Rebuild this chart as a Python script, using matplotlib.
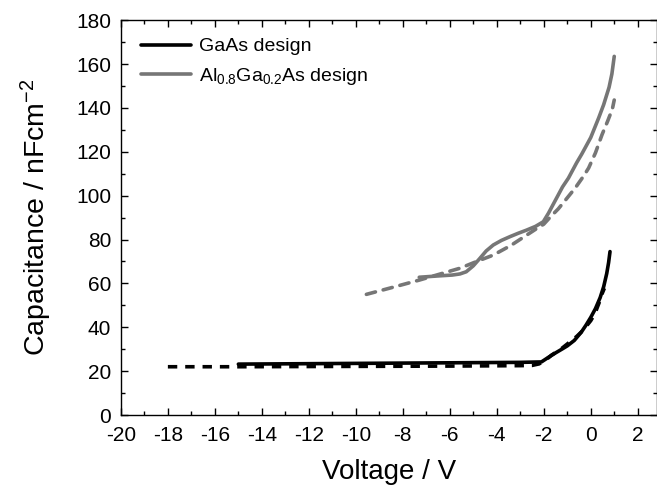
import numpy as np
import matplotlib
matplotlib.use('Agg')
import matplotlib.pyplot as plt
from matplotlib.ticker import MultipleLocator

plt.rcParams['font.family'] = ['Liberation Sans', 'DejaVu Sans']
plt.rcParams['mathtext.fontset'] = 'custom'
plt.rcParams['mathtext.rm'] = 'Liberation Sans'
plt.rcParams['mathtext.it'] = 'Liberation Sans'
plt.rcParams['axes.unicode_minus'] = False

# GaAs design, solid
gaas_v = [-15.0, -12.0, -9.0, -6.0, -3.0, -2.1, -1.8, -1.5, -1.2, -1.0, -0.7, -0.4,
          -0.2, 0.0, 0.2, 0.4, 0.55, 0.68, 0.76, 0.82]
gaas_c = [23.2, 23.4, 23.6, 23.8, 24.0, 24.2, 26.3, 28.3, 30.2, 31.5, 34.0, 37.8,
          41.0, 44.5, 48.5, 53.5, 58.5, 64.5, 69.5, 74.5]
# GaAs design, dashed
gaas_d_v = [-18.0, -15.0, -12.0, -9.0, -6.0, -3.0, -2.5, -2.2, -1.9, -1.67, -1.3, -0.96,
            -0.6, -0.32, 0.0, 0.18, 0.35, 0.46, 0.58]
gaas_d_c = [22.0, 22.0, 22.1, 22.2, 22.3, 22.5, 22.6, 23.3, 25.2, 27.3, 29.8, 32.7,
            35.8, 38.7, 43.0, 46.3, 51.0, 54.7, 57.8]
# Al0.8Ga0.2As design, solid
al_v = [-7.3, -6.5, -5.9, -5.57, -5.3, -5.0, -4.72, -4.45, -4.15, -3.8, -3.44, -3.1,
        -2.73, -2.35, -2.02, -1.8, -1.5, -1.2, -0.95, -0.6, -0.38, 0.0, 0.34, 0.55,
        0.78, 0.9, 1.0]
al_c = [62.8, 63.4, 63.8, 64.3, 65.3, 68.0, 71.4, 74.8, 77.5, 79.6, 81.3, 82.8,
        84.3, 86.0, 88.1, 92.0, 98.0, 104.0, 108.0, 115.0, 119.0, 126.5, 135.5, 141.5,
        149.4, 155.5, 163.5]
# Al0.8Ga0.2As design, dashed
al_d_v = [-9.55, -8.5, -7.3, -6.5, -5.57, -4.9, -4.15, -3.4, -2.73, -2.3, -2.0, -1.7,
          -1.38, -1.0, -0.66, -0.3, -0.09, 0.2, 0.48, 0.72, 0.92, 1.0]
al_d_c = [55.0, 58.0, 61.5, 64.0, 66.9, 69.8, 72.9, 77.3, 82.0, 85.0, 87.0, 90.5,
          94.0, 99.0, 103.5, 109.0, 112.6, 119.5, 127.8, 134.0, 139.5, 143.6]

fig = plt.figure(figsize=(6.57, 4.92), dpi=100)
ax = fig.add_axes([0.184, 0.1565, 0.816, 0.8025])

gray = '#767676'
ax.plot(gaas_d_v, gaas_d_c, color='black', lw=2.6, ls=(0, (2.6, 2.2)))
ax.plot(gaas_v, gaas_c, color='black', lw=2.6, solid_capstyle='round',
        solid_joinstyle='round', label='GaAs design')
ax.plot(al_d_v, al_d_c, color=gray, lw=2.6, ls=(0, (2.6, 2.2)), dash_capstyle='round')
ax.plot(al_v, al_c, color=gray, lw=2.6, solid_capstyle='round',
        solid_joinstyle='round', label=r'Al$_{0.8}$Ga$_{0.2}$As design')

ax.set_xlim(-20, 2.82)
ax.set_ylim(0, 180)
ax.xaxis.set_major_locator(MultipleLocator(2))
ax.xaxis.set_minor_locator(MultipleLocator(1))
ax.yaxis.set_major_locator(MultipleLocator(20))
ax.yaxis.set_minor_locator(MultipleLocator(10))
ax.tick_params(which='both', direction='in', top=True, right=True, labelsize=15, width=1.0)
ax.tick_params(which='major', length=5)
ax.tick_params(axis='x', which='major', pad=8)
ax.tick_params(axis='y', which='major', pad=7)
ax.tick_params(which='minor', length=3)
for s in ax.spines.values():
    s.set_linewidth(1.0)

ax.set_xlabel('Voltage / V', fontsize=20, labelpad=10)
ax.set_ylabel(r'Capacitance / nFcm$^{-2}$', fontsize=20.5, labelpad=16)

ax.legend(loc='upper left', bbox_to_anchor=(0.012, 0.99), frameon=False, fontsize=14,
          handlelength=2.6, handletextpad=0.4, borderaxespad=0.3, labelspacing=0.55)

fig.savefig('out.png', dpi=100)
